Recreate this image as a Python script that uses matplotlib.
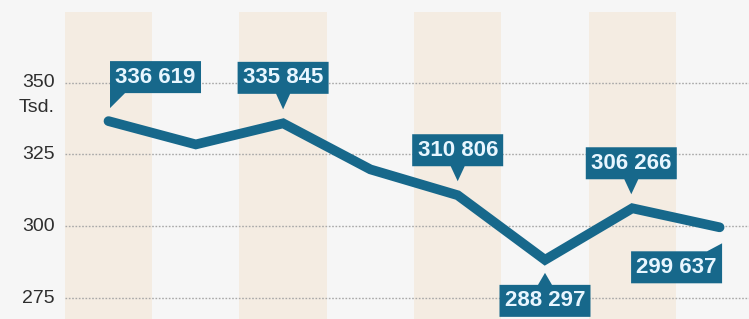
import matplotlib
matplotlib.use("Agg")
import matplotlib.pyplot as plt
from matplotlib.patches import Polygon, Rectangle

# ---- data ----
points = [0, 1, 2, 3, 4, 5, 6, 7]
values = [336619, 328500, 335845, 319800, 310806, 288297, 306266, 299637]
labeled = [0, 2, 4, 5, 6, 7]
yticks = [275, 300, 325, 350]
unit_label = "Tsd."
shaded = [0, 2, 4, 6]

# ---- style ----
BG = "#f6f6f6"
BAND = "#f4ece2"
BLUE = "#17688b"
TXT = "#2e2e2e"
LBL = "#e8f6ff"

# offsets of callout box centre from the point (pixels, y down) and tail type
callout = {
    0: (47, -44, "bl"),
    2: (0, -45.5, "down"),
    4: (0, -45, "down"),
    5: (0, 41, "up"),
    6: (-1, -45, "down"),
    7: (-43, 40, "tr"),
}
BW, BH = 91, 32

W, H = 749, 319
fig = plt.figure(figsize=(W / 100, H / 100), dpi=100, facecolor=BG)
ax = fig.add_axes([0, 0, 1, 1])
ax.set_facecolor(BG)
ax.set_xlim(-1.243, 7.337)
ax.set_ylim(267.7, 378.8)
ax.axis("off")

# bands
for s in shaded:
    ax.add_patch(Rectangle((s - 0.5, 267.7), 1.0, 378.8 - 4.1 - 267.7,
                           facecolor=BAND, edgecolor="none", zorder=0))

# grid lines
for t in yticks:
    ax.plot([-0.5, 7.337], [t, t], color="#a8a8a8", lw=1.0,
            linestyle=(0, (1.2, 1.2)), zorder=1)

def px_to_data_x(px):
    return ax.transData.inverted().transform((px, 0))[0]

xl = px_to_data_x(55)
for t in yticks:
    ax.text(xl, t, str(t), ha="right", va="center", fontsize=14,
            color=TXT, family="Liberation Sans", zorder=3)
ax.text(xl, 350 - 8.6, unit_label, ha="right", va="center", fontsize=14,
        color=TXT, family="Liberation Sans", zorder=3)

# line
yv = [v / 1000 for v in values]
ax.plot(points, yv, color=BLUE, lw=7, solid_capstyle="round",
        solid_joinstyle="miter", zorder=4)

# callouts
fig.canvas.draw()
for i in labeled:
    px, py = ax.transData.transform((points[i], yv[i]))
    py_s = H - py  # screen y (down)
    dx, dy, kind = callout[i]
    cx, cy = px + dx, py_s + dy
    l, r = cx - BW / 2, cx + BW / 2
    t, b = cy - BH / 2, cy + BH / 2
    if kind == "down":
        tip = py_s - 14
        pts = [(l, t), (r, t), (r, b), (cx + 7, b), (cx, tip), (cx - 7, b), (l, b)]
    elif kind == "up":
        tip = py_s + 13
        pts = [(l, t), (cx - 7, t), (cx, tip), (cx + 7, t), (r, t), (r, b), (l, b)]
    elif kind == "bl":
        pts = [(l, t), (r, t), (r, b), (l + 15, b), (l, b + 15), (l, b)]
    else:  # tr
        pts = [(l, t), (r - 15, t), (r, t - 8), (r, b), (l, b)]
    pts = [(x, H - y) for x, y in pts]
    ax.add_patch(Polygon(pts, closed=True, facecolor=BLUE, edgecolor="none",
                         transform=None, zorder=5))
    txt = f"{values[i]:,}".replace(",", " ")
    tx, ty = ax.transData.inverted().transform((cx, H - cy))
    ax.text(tx, ty, txt, ha="center", va="center", fontsize=16,
            fontweight="bold", color=LBL, family="Liberation Sans", zorder=6)

fig.savefig("out.png", dpi=100, facecolor=BG)
